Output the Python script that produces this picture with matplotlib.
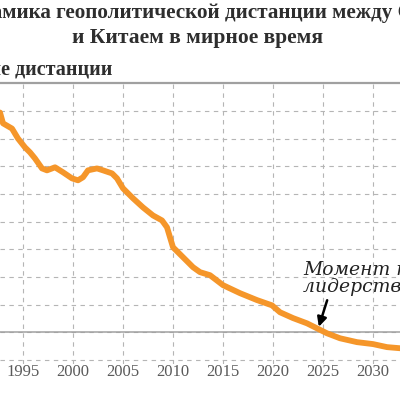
import numpy as np
import matplotlib.pyplot as plt

# curve (year, distance in grid units)
years = [1992.7, 1993.0, 1993.9, 1994.5, 1995.2, 1995.7, 1996.2, 1996.9, 1997.4,
         1998.2, 1999.0, 1999.9, 2000.5, 2001.0, 2001.5, 2002.4, 2003.0, 2003.9,
         2004.4, 2005.0, 2006.0, 2007.0, 2008.0, 2008.9, 2009.4, 2010.0, 2011.0,
         2012.0, 2012.7, 2013.7, 2015.0, 2016.7, 2018.4, 2019.9, 2020.7, 2022.0,
         2023.4, 2024.4, 2025.4, 2026.7, 2028.4, 2030.0, 2031.4, 2032.7]
distance = [7.94, 7.55, 7.36, 7.00, 6.68, 6.50, 6.28, 5.92, 5.85,
            5.96, 5.78, 5.56, 5.49, 5.60, 5.85, 5.92, 5.85, 5.74,
            5.56, 5.20, 4.84, 4.51, 4.22, 4.04, 3.79, 3.07, 2.71,
            2.35, 2.17, 2.06, 1.70, 1.41, 1.16, 0.97, 0.72, 0.51,
            0.32, 0.14, -0.04, -0.22, -0.36, -0.43, -0.54, -0.58]
year_ticks = [1995, 2000, 2005, 2010, 2015, 2020, 2025, 2030]
level_ticks = [-1, 0, 1, 2, 3, 4, 5, 6, 7, 8]

title1 = "Динамика геополитической дистанции между США"
title2 = "и Китаем в мирное время"
ylabel = "Значение дистанции"
note = "Момент перехода\nлидерства к Китаю"

serif = ['Liberation Serif', 'DejaVu Serif']

fig = plt.figure(figsize=(4, 4), dpi=100)
ax = fig.add_axes([0, 0.09, 1, 0.702])

ax.plot(years, distance, color='#f5962a', lw=4.2, solid_capstyle='round', zorder=3)

ax.set_xlim(1992.7, 2032.7)
ax.set_ylim(-1.15, 9)
ax.set_xticks(year_ticks)
ax.set_xticklabels([str(y) for y in year_ticks], family=serif, fontsize=12, color='#5a5a5a')
ax.set_yticks(level_ticks)
ax.set_yticklabels([])
ax.tick_params(length=0, pad=0)

for s in ax.spines.values():
    s.set_visible(False)
ax.grid(True, color='#b5b5b5', lw=0.8, linestyle=(0, (4, 4)))
ax.axhline(0, color='#a0a0a0', lw=1.1, zorder=2)
ax.axhline(9, color='#a0a0a0', lw=1.6, clip_on=False, zorder=2)

ax.annotate('', xy=(2024.5, 0.1), xytext=(2025.5, 1.25),
            arrowprops=dict(arrowstyle='-|>', color='black', lw=1.8, mutation_scale=14),
            zorder=4)
ax.text(2023.0, 1.3, note, family=['DejaVu Serif'], style='italic', fontsize=13.5,
        color='#222222', ha='left', va='bottom', linespacing=0.95, zorder=4)

# first title line is cut on the left in the original, so line up the
# visible part ("ника ...") with the left edge
title_kw = dict(family=serif, weight='bold', fontsize=15.2, color='#2e2e2e')
r = fig.canvas.get_renderer()
tmp = fig.text(0, 0, "Дина", **title_kw)
w_prefix = tmp.get_window_extent(renderer=r).width
tmp.remove()
fig.text((2 - w_prefix) / 400, 0.9675, title1, ha='left', va='center', **title_kw)
fig.text(0.493, 0.905, title2, family=serif, weight='bold', fontsize=15.5,
         color='#2e2e2e', ha='center', va='center')
fig.text(0.28, 0.825, ylabel, family=serif, weight='bold', fontsize=14.5,
         color='#2e2e2e', ha='right', va='center')

fig.savefig('out.png', dpi=100)
